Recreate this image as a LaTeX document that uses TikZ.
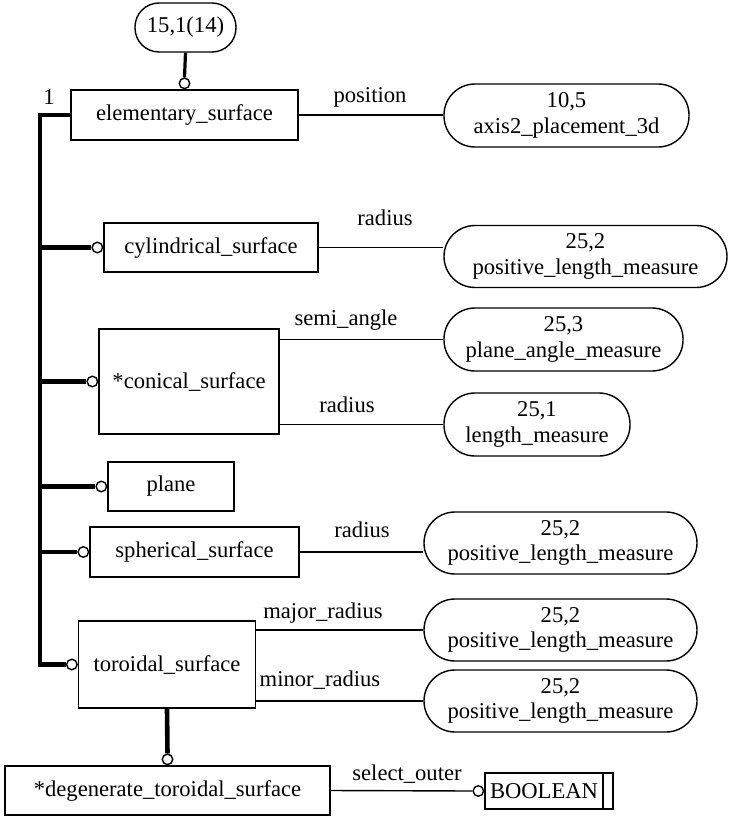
\documentclass[tikz,border=0pt]{standalone}
\usepackage{fontspec}
\setmainfont{Liberation Serif}
\begin{document}
\begin{tikzpicture}[x=1pt,y=-1pt,
  every node/.style={font=\fontsize{22.6}{25.5}\selectfont},
  ent/.style={draw, line width=1.4pt, rectangle, inner sep=0pt, align=center},
  val/.style={draw, line width=1.4pt, rectangle, rounded corners=31pt, inner sep=0pt,
              minimum width=#1, minimum height=62pt, align=center},
  ring/.style={draw, circle, line width=1.4pt, fill=white, inner sep=0pt, minimum size=10.5pt},
  lbl/.style={anchor=base, inner sep=0pt},
  thin/.style={line width=1.4pt},
  thickrel/.style={line width=4.6pt},
  toprel/.style={line width=3.2pt}
]
\useasboundingbox (0,0) rectangle (728,816);

% entity boxes
\node[ent, minimum width=227pt, minimum height=50pt] (elem) at (184.5,115) {elementary\_surface};
\node[ent, minimum width=214pt, minimum height=49pt] (cyl) at (211,247.5) {cylindrical\_surface};
\node[ent, minimum width=180pt, minimum height=105pt] (cone) at (189,381.5) {*conical\_surface};
\node[ent, minimum width=126pt, minimum height=49pt] (plane) at (171,486.5) {plane};
\node[ent, minimum width=209pt, minimum height=50pt] (sph) at (194.5,552) {spherical\_surface};
\node[ent, minimum width=177pt, minimum height=87pt] (tor) at (167,664.5) {toroidal\_surface};
\node[ent, minimum width=325pt, minimum height=49pt] (deg) at (167.5,790.5) {*degenerate\_toroidal\_surface};
\node[ent, minimum width=128pt, minimum height=36pt] (bool) at (549,791) {\hspace*{-10pt}BOOLEAN};
\draw[thin] (603,773) -- (603,809);

% referenced value types
\node[val=101pt, minimum height=49pt, rounded corners=24pt] (top) at (185.5,27.5) {15,1(14)};
\node[val=245pt, minimum height=63pt] (posv) at (566.5,115.5) {10,5\\axis2\_placement\_3d};
\node[val=283pt] (cylv) at (585.5,256.5) {25,2\\positive\_length\_measure};
\node[val=239pt, minimum height=63pt] (semiv) at (563.5,339.5) {25,3\\plane\_angle\_measure};
\node[val=186pt, minimum height=63pt] (lenv) at (537,424.5) {25,1\\length\_measure};
\node[val=273pt] (sphv) at (560.5,543) {25,2\\positive\_length\_measure};
\node[val=273pt] (majv) at (560.5,630) {25,2\\positive\_length\_measure};
\node[val=273pt] (minv) at (560.5,701) {25,2\\positive\_length\_measure};

% open rings at the subtype ends
\node[ring, anchor=south] (r0) at (elem.north) {};
\node[ring, anchor=east] (r1) at (cyl.west) {};
\node[ring, anchor=east] (r2) at (cone.west) {};
\node[ring, anchor=east] (r3) at (plane.west) {};
\node[ring, anchor=east] (r4) at (sph.west) {};
\node[ring, anchor=east] (r5) at (tor.west) {};
\node[ring, anchor=south] (r6) at (deg.north) {};
\node[ring, anchor=east] (r7) at (bool.west) {};

% supertype spine
\coordinate (sp0) at (40,115);
\draw[thickrel, line join=miter] (elem.west) -- (sp0) -- (sp0 |- r5.west) -- (r5.west);
\foreach \r in {r1,r2,r3,r4}
  \draw[thickrel] (\r.west -| sp0) -- (\r.west);
\node[lbl] (one) at (49,104) {1};

% schema reference and subtype
\draw[toprel] (top.south) -- (r0.north);
\draw[thickrel] (tor.south) -- (r6.north);

% attributes
\draw[thin] (elem.east) -- (elem.east -| posv.west);
\draw[thin] (cyl.east) -- (cyl.east -| cylv.west);
\draw[thin] (cone.east |- semiv.west) -- (semiv.west);
\draw[thin] (cone.east |- lenv.west) -- (lenv.west);
\draw[thin] (sph.east) -- (sph.east -| sphv.west);
\draw[thin] (tor.east |- majv.west) -- (majv.west);
\draw[thin] (tor.east |- minv.west) -- (minv.west);
\draw[thin] (deg.east) -- (r7.west);

\node[lbl] at (370,102) {position};
\node[lbl] at (385,225) {radius};
\node[lbl] at (346,325) {semi\_angle};
\node[lbl] at (347,412) {radius};
\node[lbl] at (362,537) {radius};
\node[lbl] at (323,618) {major\_radius};
\node[lbl] at (320,686) {minor\_radius};
\node[lbl] at (407,780) {select\_outer};
\end{tikzpicture}
\end{document}
